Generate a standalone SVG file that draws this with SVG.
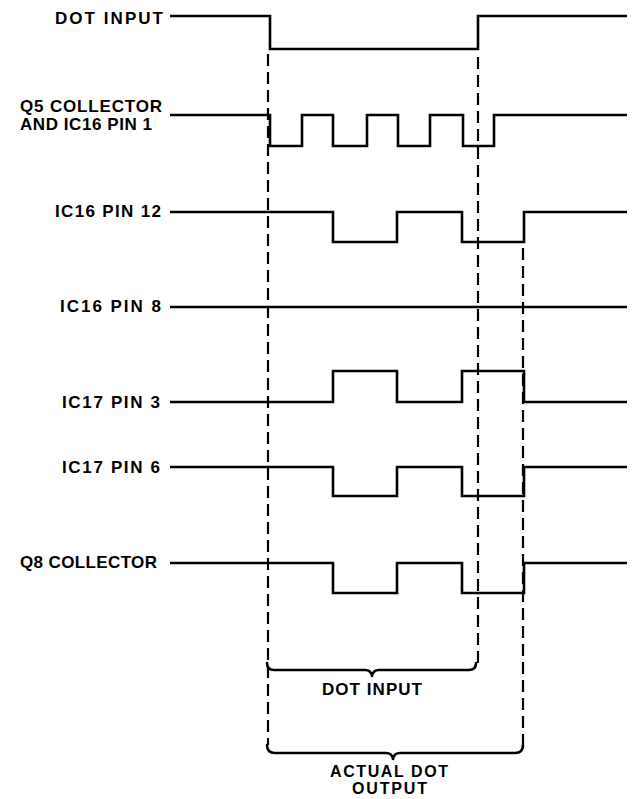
<svg xmlns="http://www.w3.org/2000/svg" width="637" height="799" viewBox="0 0 637 799">
<style>
.bg{fill:#ffffff}
.wave{fill:none;stroke:#000;stroke-width:2.6;stroke-linejoin:miter;stroke-linecap:butt}
.dash{fill:none;stroke:#000;stroke-width:2.2;stroke-dasharray:12 6}
.brace{fill:none;stroke:#000;stroke-width:2.6;stroke-linejoin:round;stroke-linecap:round}
.lbl{font-family:"Liberation Sans",Arial,sans-serif;font-weight:bold;font-size:17px;fill:#000}
.sm{font-size:16px}
</style>
<rect class="bg" x="0" y="0" width="637" height="799"/>
<g id="sig-dot-input">
<text class="lbl" x="55" y="24" textLength="108" lengthAdjust="spacing">DOT INPUT</text>
<path class="wave" d="M170,16 H270 V49 H478 V16 H627"/>
</g>
<g id="sig-q5">
<text class="lbl" x="20" y="112" textLength="142" lengthAdjust="spacing">Q5 COLLECTOR</text>
<text class="lbl" x="20" y="130" textLength="132" lengthAdjust="spacing">AND IC16 PIN 1</text>
<path class="wave" d="M170,115 H270 V146 H302 V115 H333 V146 H367 V115 H398 V146 H430 V115 H463 V146 H494 V115 H627"/>
</g>
<g id="sig-ic16-pin12">
<text class="lbl" x="55" y="217" textLength="106" lengthAdjust="spacing">IC16 PIN 12</text>
<path class="wave" d="M170,212 H333 V242 H397 V212 H462 V242 H524 V212 H627"/>
</g>
<g id="sig-ic16-pin8">
<text class="lbl" x="60" y="312" textLength="101" lengthAdjust="spacing">IC16 PIN 8</text>
<path class="wave" d="M170,307 H627"/>
</g>
<g id="sig-ic17-pin3">
<text class="lbl" x="62" y="408" textLength="98" lengthAdjust="spacing">IC17 PIN 3</text>
<path class="wave" d="M170,402 H333 V371 H397 V402 H462 V371 H524 V402 H627"/>
</g>
<g id="sig-ic17-pin6">
<text class="lbl" x="62" y="473" textLength="98" lengthAdjust="spacing">IC17 PIN 6</text>
<path class="wave" d="M170,467 H333 V496 H397 V467 H462 V496 H524 V467 H627"/>
</g>
<g id="sig-q8">
<text class="lbl" x="20" y="568" textLength="137" lengthAdjust="spacing">Q8 COLLECTOR</text>
<path class="wave" d="M170,563 H333 V593 H397 V563 H462 V593 H524 V563 H627"/>
</g>
<g id="connectors">
<path class="dash" d="M268,54 V745"/>
<path class="dash" d="M478,57 V663"/>
<path class="dash" d="M523,248 V745"/>
<path class="brace" d="M267,663 Q267,670 274,670 H365 Q371,670 372,676 Q373,670 379,670 H469 Q476,670 476,663"/>
<path class="brace" d="M267,745 Q267,753 275,753 H386 Q392,753 393,759 Q394,753 400,753 H515 Q523,753 523,745"/>
</g>
<g id="annotations">
<text class="lbl" x="322" y="695" textLength="100" lengthAdjust="spacing">DOT INPUT</text>
<text class="lbl sm" x="330" y="777" textLength="118" lengthAdjust="spacing">ACTUAL DOT</text>
<text class="lbl sm" x="352" y="794" textLength="75" lengthAdjust="spacing">OUTPUT</text>
</g>
</svg>
